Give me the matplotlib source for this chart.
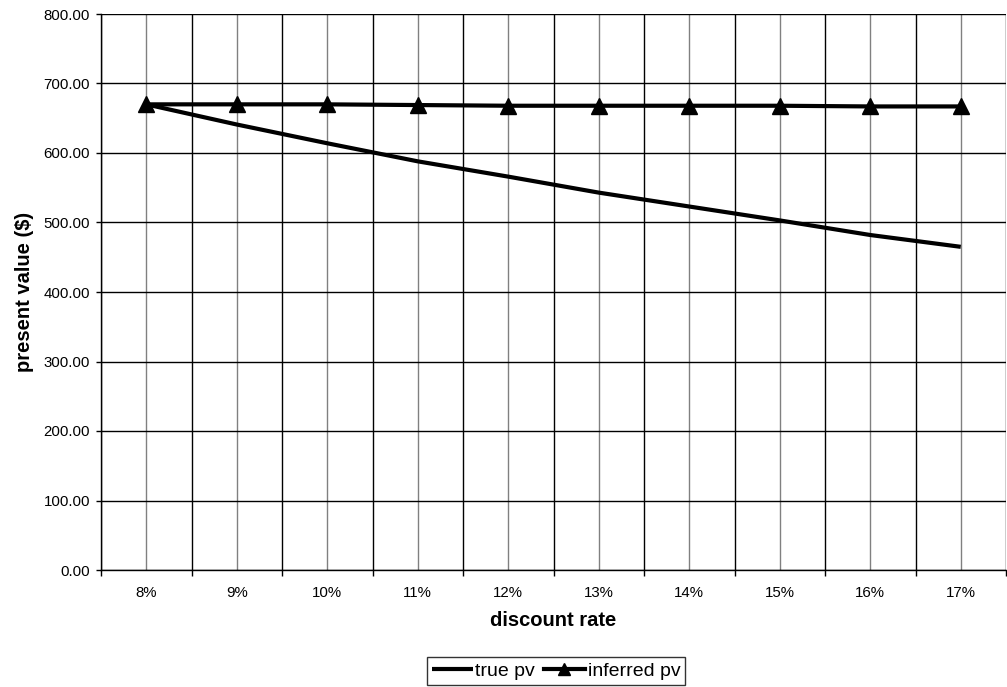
import matplotlib
matplotlib.use("Agg")
import matplotlib.pyplot as plt
from matplotlib.ticker import FixedLocator, FormatStrFormatter

plt.rcParams['font.family'] = ['Liberation Sans', 'DejaVu Sans']

categories = ["8%", "9%", "10%", "11%", "12%", "13%", "14%", "15%", "16%", "17%"]
true_pv = [670, 641, 614, 588, 566, 543, 523, 503, 482, 465]
inferred_pv = [670, 670, 670, 669, 668, 668, 668, 668, 667, 667]
y_ticks = [0, 100, 200, 300, 400, 500, 600, 700, 800]

W, H = 1007, 687
fig = plt.figure(figsize=(W / 100, H / 100), dpi=100)
ax = fig.add_axes([101 / W, 1 - 570 / H, 905 / W, 556 / H])

x = list(range(len(categories)))
ax.plot(x, true_pv, color='black', lw=3, solid_capstyle='butt', label='true pv', zorder=3)
ax.plot(x, inferred_pv, color='black', lw=3, marker='^', markersize=12,
        label='inferred pv', zorder=4)

ax.set_xlim(-0.5, len(categories) - 0.5)
ax.set_ylim(0, 800)

ax.set_xticks(x)
ax.set_xticklabels(categories, fontsize=10.8)
ax.xaxis.set_minor_locator(FixedLocator([i - 0.5 for i in range(len(categories) + 1)]))
ax.tick_params(axis='x', which='major', length=0, pad=11.5)
ax.tick_params(axis='x', which='minor', length=4.3, width=1, direction='out', color='black')
ax.set_yticks(y_ticks)
ax.yaxis.set_major_formatter(FormatStrFormatter('%.2f'))
ax.tick_params(axis='y', which='major', length=3.5, width=1, pad=4.5, labelsize=10.8)

ax.grid(True, axis='x', which='major', color='#808080', lw=1, zorder=0)
ax.grid(True, axis='x', which='minor', color='black', lw=1, zorder=0)
ax.grid(True, axis='y', which='major', color='black', lw=1, zorder=0)
ax.set_axisbelow(True)

for s in ['top', 'right']:
    ax.spines[s].set_visible(False)
for s in ['left', 'bottom']:
    ax.spines[s].set_color('black')
    ax.spines[s].set_linewidth(1)

fig.text(553.5 / W, 1 - 620 / H, 'discount rate', fontsize=14.5, fontweight='bold',
         ha='center', va='center')
fig.text(25 / W, 1 - 292 / H, 'present value ($)', fontsize=14.5, fontweight='bold',
         ha='center', va='center', rotation=90)

leg = fig.legend(loc='center', bbox_to_anchor=(556 / W, 1 - 671 / H), ncol=2,
                 fontsize=14, frameon=True, fancybox=False, shadow=False,
                 handlelength=2.1, handletextpad=0.15, columnspacing=0.45,
                 borderpad=0.25, borderaxespad=0, markerscale=0.75)
leg.get_frame().set_edgecolor('black')
leg.get_frame().set_linewidth(1)

fig.savefig('out.png', dpi=100)
